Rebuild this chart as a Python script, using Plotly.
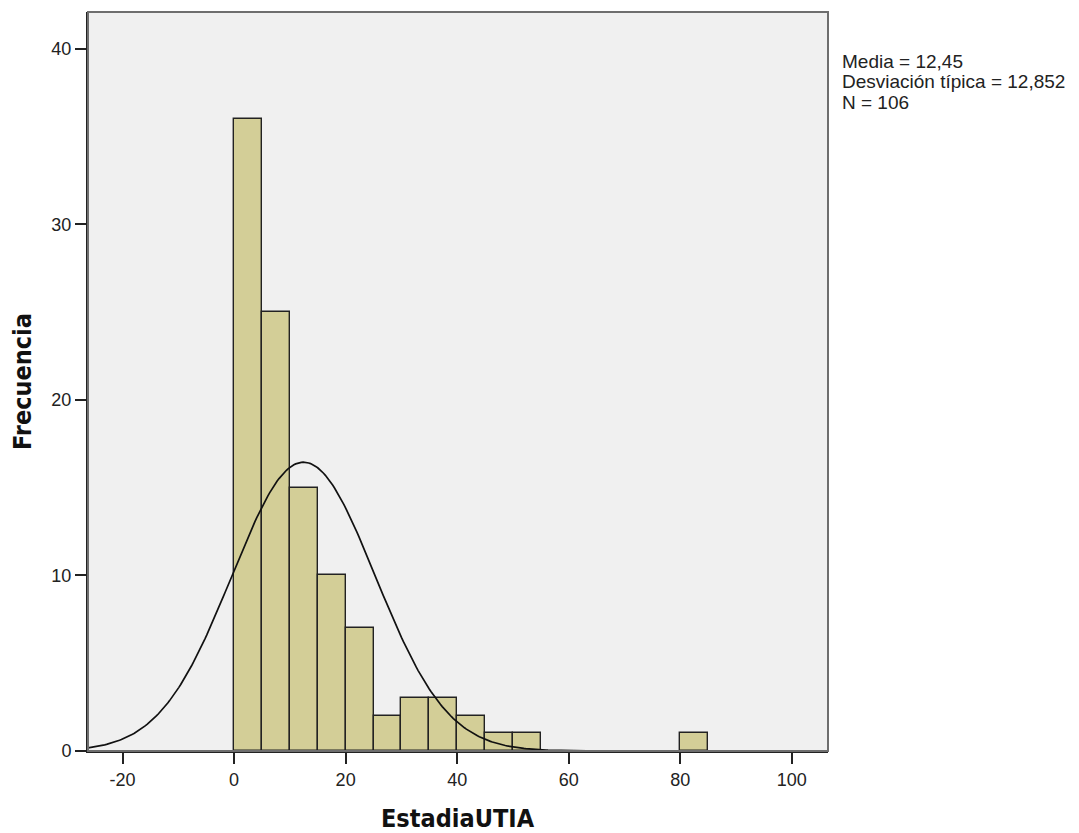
import numpy as np
import plotly.graph_objects as go

# Histogram data (bin starts, width 5)
bin_starts = [0, 5, 10, 15, 20, 25, 30, 35, 40, 45, 50, 80]
counts = [36, 25, 15, 10, 7, 2, 3, 3, 2, 1, 1, 1]
bin_width = 5
mean_val = 12.45
std_val = 12.852
n_val = 106
x_ticks = [-20, 0, 20, 40, 60, 80, 100]
x_ticklabels = ["-20", "0", "20", "40", "60", "80", "100"]
y_ticks = [0, 10, 20, 30, 40]
stat_lines = ["Media = 12,45", "Desviación típica = 12,852", "N = 106"]
x_title = "EstadiaUTIA"
y_title = "Frecuencia"

x_range = [-26.2, 106.5]
y_range = [0, 42.1]

centers = [b + bin_width / 2 for b in bin_starts]

xs = np.linspace(x_range[0], x_range[1], 400)
ys = n_val * bin_width / (std_val * np.sqrt(2 * np.pi)) * np.exp(-0.5 * ((xs - mean_val) / std_val) ** 2)

fig = go.Figure()
fig.add_trace(go.Bar(
    x=centers, y=counts, width=bin_width,
    marker=dict(color="#d3ce97", line=dict(color="#222222", width=1.4)),
    hoverinfo="skip",
))
fig.add_trace(go.Scatter(
    x=xs, y=ys, mode="lines",
    line=dict(color="#111111", width=1.7),
    hoverinfo="skip",
))

# frame (top/right gray)
fig.add_shape(type="rect", xref="paper", yref="paper", x0=0, y0=0, x1=1, y1=1,
              line=dict(color="#6e6e6e", width=2), layer="above")

title_font = dict(family="DejaVu Sans Condensed, DejaVu Sans, sans-serif", size=25, color="#111111")
tick_font = dict(family="Liberation Sans, Arial, sans-serif", size=18, color="#222222")

annots = []
for i, line in enumerate(stat_lines):
    annots.append(dict(
        xref="paper", yref="paper", x=1.0162, y=0.933 - i * 0.0276,
        xanchor="left", yanchor="middle", text=line, showarrow=False, align="left",
        font=dict(family="Liberation Sans, Arial, sans-serif", size=19, color="#222222"),
    ))
annots.append(dict(
    xref="paper", yref="paper", x=0.5, y=-0.0913, xanchor="center", yanchor="middle",
    text="<b>" + x_title + "</b>", showarrow=False, font=title_font,
))

fig.update_layout(
    width=1063, height=825,
    margin=dict(l=80, r=243, t=4, b=82, autoexpand=False),
    paper_bgcolor="white",
    plot_bgcolor="#f0f0f0",
    showlegend=False,
    bargap=0,
    font=dict(family="Liberation Sans, Arial, sans-serif", color="#222222"),
    xaxis=dict(
        range=x_range, tickvals=x_ticks, ticktext=x_ticklabels, ticks="outside",
        ticklen=11, tickwidth=2, automargin=False,
        tickcolor="#222222", showgrid=False, zeroline=False,
        showline=True, linecolor="#222222", linewidth=2,
        tickfont=tick_font,
    ),
    yaxis=dict(
        range=y_range, tickvals=y_ticks, ticks="outside", ticklen=11, tickwidth=2,
        automargin=False,
        tickcolor="#222222", showgrid=False, zeroline=False,
        showline=True, linecolor="#222222", linewidth=2,
        tickfont=tick_font,
        title=dict(text="<b>" + y_title + "</b>", standoff=24, font=title_font),
    ),
    annotations=annots,
)

fig.write_html("out.html")
